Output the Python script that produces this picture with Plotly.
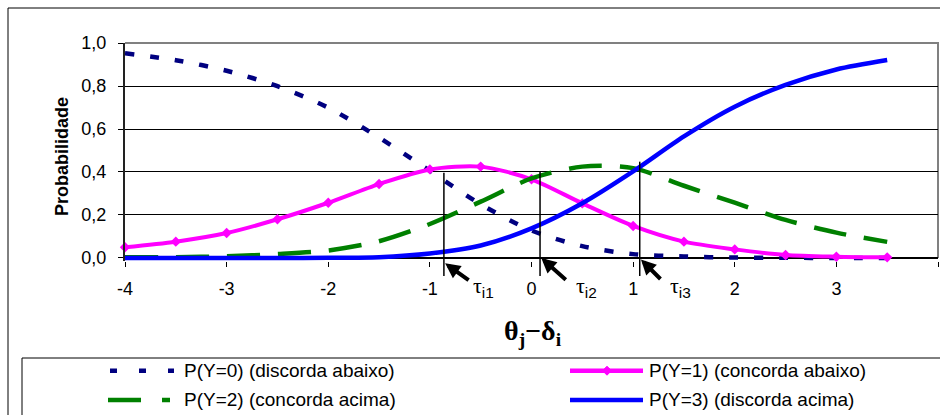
import plotly.graph_objects as go

# Item category probability curves (rating-scale model) against theta - delta
theta = [-4.0, -3.5, -3.0, -2.5, -2.0, -1.5, -1.0, -0.5,
         0.0, 0.5, 1.0, 1.5, 2.0, 2.5, 3.0, 3.5]
p_y0 = [0.952, 0.920, 0.871, 0.799, 0.699, 0.560, 0.405, 0.250,
        0.128, 0.055, 0.018, 0.007, 0.002, 0.001, 0.000, 0.000]
p_y1 = [0.050, 0.076, 0.116, 0.180, 0.257, 0.344, 0.412, 0.425,
        0.366, 0.254, 0.149, 0.076, 0.040, 0.014, 0.006, 0.003]
p_y2 = [0.003, 0.004, 0.008, 0.018, 0.035, 0.078, 0.158, 0.262,
        0.370, 0.425, 0.418, 0.336, 0.257, 0.177, 0.118, 0.075]
p_y3 = [0.000, 0.000, 0.000, 0.000, 0.001, 0.004, 0.021, 0.058,
        0.138, 0.255, 0.403, 0.566, 0.704, 0.805, 0.877, 0.921]

series_names = ["P(Y=0) (discorda abaixo)", "P(Y=1) (concorda abaixo)",
                "P(Y=2) (concorda acima)", "P(Y=3) (discorda acima)"]

# thresholds tau_i1..tau_i3 and the height of each marker line
tau_subs = ["i1", "i2", "i3"]
tau_x = [-0.862, 0.084, 1.065]
tau_top = [0.397, 0.402, 0.448]

x_tick_vals = [-4, -3, -2, -1, 0, 1, 2, 3, 4]
x_tick_text = ["-4", "-3", "-2", "-1", "0", "1", "2", "3", "4"]
y_tick_vals = [0.0, 0.2, 0.4, 0.6, 0.8, 1.0]
y_tick_text = ["0,0", "0,2", "0,4", "0,6", "0,8", "1,0"]

NAVY, MAGENTA, GREEN, BLUE = "#000080", "#FF00FF", "#008000", "#0000FF"
SANS = "Liberation Sans, Arial, sans-serif"
SERIF = "Liberation Serif, Times New Roman, serif"

W, H = 940, 415
L, R, T, B = 125, 2, 43, 154
PW, PH = W - L - R, H - T - B
Y_MIN, Y_MAX = -0.014, 1.0


def fx(px):
    return (px - L) / PW


def fy(py):
    return (H - B - py) / PH


def yv(v):
    return (v - Y_MIN) / (Y_MAX - Y_MIN)


fig = go.Figure()
fig.add_trace(go.Scatter(x=theta, y=p_y0, name=series_names[0], mode="lines",
                         line=dict(color=NAVY, width=4.5, dash="9px,16px",
                                   shape="spline", smoothing=0.8)))
fig.add_trace(go.Scatter(x=theta, y=p_y1, name=series_names[1], mode="lines+markers",
                         cliponaxis=False,
                         line=dict(color=MAGENTA, width=4, shape="spline", smoothing=0.8),
                         marker=dict(symbol="diamond", size=8, color=MAGENTA)))
fig.add_trace(go.Scatter(x=theta, y=p_y2, name=series_names[2], mode="lines",
                         line=dict(color=GREEN, width=4.5, dash="33px,18px",
                                   shape="spline", smoothing=0.8)))
fig.add_trace(go.Scatter(x=theta, y=p_y3, name=series_names[3], mode="lines",
                         line=dict(color=BLUE, width=4.5, shape="spline", smoothing=0.8)))

shapes = []
# outer chart frame and legend frame (running past the page edge)
shapes.append(dict(type="rect", xref="paper", yref="paper",
                   x0=fx(8), x1=fx(960), y0=fy(440), y1=fy(8),
                   line=dict(color="black", width=1), layer="below"))
shapes.append(dict(type="rect", xref="paper", yref="paper",
                   x0=fx(22), x1=fx(960), y0=fy(440), y1=fy(358),
                   line=dict(color="black", width=1), layer="below"))
# grey plot-area border on top and right
shapes.append(dict(type="path", xref="paper", yref="paper",
                   path=f"M0,{yv(1.0)} L1,{yv(1.0)} L1,{yv(0.0)}",
                   line=dict(color="#808080", width=2), layer="between"))

# vertical threshold lines
for tx, top in zip(tau_x, tau_top):
    shapes.append(dict(type="line", xref="x", yref="paper",
                       x0=tx, x1=tx, y0=fy(276), y1=yv(top),
                       line=dict(color="black", width=1.5), layer="above"))

# legend samples
row1, row2 = 370.7, 400.0
legend_samples = [
    (110, 174, row1, NAVY, "7px,22px"),
    (108, 170, row2, GREEN, "33px,21px"),
    (570, 643, row1, MAGENTA, "solid"),
    (570, 643, row2, BLUE, "solid"),
]
for x0, x1, ry, col, dash in legend_samples:
    shapes.append(dict(type="line", xref="paper", yref="paper",
                       x0=fx(x0), x1=fx(x1), y0=fy(ry), y1=fy(ry),
                       line=dict(color=col, width=4.5, dash=dash), layer="above"))
cx, d = 607, 4.5
shapes.append(dict(type="path", xref="paper", yref="paper",
                   path=(f"M{fx(cx - d)},{fy(row1)} L{fx(cx)},{fy(row1 - d)} "
                         f"L{fx(cx + d)},{fy(row1)} L{fx(cx)},{fy(row1 + d)} Z"),
                   fillcolor=MAGENTA, line=dict(color=MAGENTA, width=1), layer="above"))

annotations = []
legend_text_pos = [(182, row1), (647, row1), (182, row2), (647, row2)]
for name, (lx, ly) in zip(series_names, legend_text_pos):
    annotations.append(dict(xref="paper", yref="paper", x=fx(lx), y=fy(ly),
                            xanchor="left", yanchor="middle", showarrow=False,
                            text=name, font=dict(family=SANS, size=19, color="black")))

# axis titles
annotations.append(dict(xref="paper", yref="paper", x=fx(62), y=fy(156),
                        xanchor="center", yanchor="middle", showarrow=False,
                        textangle=-90, text="<b>Probabilidade</b>",
                        font=dict(family=SANS, size=18, color="black")))
annotations.append(dict(xref="paper", yref="paper", x=fx(533), y=fy(332),
                        xanchor="center", yanchor="middle", showarrow=False,
                        text="<b>θ<sub>j</sub>−δ<sub>i</sub></b>",
                        font=dict(family=SERIF, size=28, color="black")))

# arrows and labels for the thresholds
arrow_tip_py = [263.3, 258.0, 259.5]
arrow_off = [(25, 18), (26, 23), (21, 21)]
label_left = [471, 574, 668]
for tx, sub, tip_py, (ax, ay), lx in zip(tau_x, tau_subs, arrow_tip_py, arrow_off, label_left):
    annotations.append(dict(xref="x", yref="paper", x=tx + 0.012, y=fy(tip_py),
                            ax=ax, ay=ay, text="", showarrow=True,
                            arrowhead=2, arrowsize=0.75, arrowwidth=4,
                            arrowcolor="black", standoff=0))
    annotations.append(dict(xref="paper", yref="paper", x=fx(lx), y=fy(287),
                            xanchor="left", yanchor="middle", showarrow=False,
                            text=("τ<sub><span style=\"font-family:Liberation Sans\">"
                                  f"{sub}</span></sub>"),
                            font=dict(family=SERIF, size=22, color="black")))

fig.update_layout(
    template="none",
    width=W, height=H,
    margin=dict(l=L, r=R, t=T, b=B, pad=0),
    paper_bgcolor="white", plot_bgcolor="white",
    showlegend=False,
    shapes=shapes, annotations=annotations,
    xaxis=dict(range=[-4, 4], tickvals=x_tick_vals, ticktext=x_tick_text,
               ticks="outside", ticklen=5, tickwidth=1, tickcolor="black",
               showline=False, showgrid=False, zeroline=False,
               ticklabelstandoff=6, automargin=False,
               tickfont=dict(family=SANS, size=18, color="black")),
    yaxis=dict(range=[Y_MIN, Y_MAX], tickvals=y_tick_vals, ticktext=y_tick_text,
               ticks="outside", ticklen=5, tickwidth=1, tickcolor="black",
               showline=True, linecolor="#222222", linewidth=2,
               showgrid=True, gridcolor="black", gridwidth=1,
               zeroline=True, zerolinecolor="black", zerolinewidth=1.5,
               ticklabelstandoff=8, automargin=False,
               tickfont=dict(family=SANS, size=18, color="black")),
)

fig.write_html("out.html")
